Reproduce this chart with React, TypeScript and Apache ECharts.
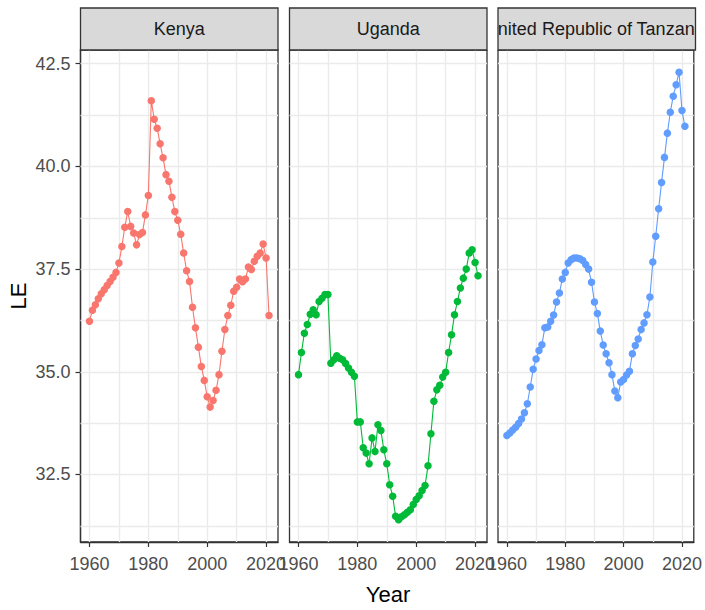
import React, { useEffect, useRef } from "react";
import * as echarts from "echarts";

const startYear = 1960;
const countries = ["Kenya", "Uganda", "United Republic of Tanzania"];
const colors = ["#F8766D", "#00BA38", "#619CFF"];

const kenyaLE = [
  36.23, 36.5, 36.63, 36.78, 36.9, 37.0, 37.1, 37.2, 37.3, 37.42,
  37.65, 38.05, 38.52, 38.9, 38.54, 38.38, 38.09, 38.34, 38.39, 38.82,
  39.29, 41.6, 41.15, 40.93, 40.55, 40.21, 39.8, 39.64, 39.25, 38.9,
  38.69, 38.35, 37.89, 37.46, 37.2, 36.57, 36.07, 35.6, 35.13, 34.79,
  34.39, 34.14, 34.3, 34.55, 34.93, 35.5, 36.03, 36.37, 36.62, 36.96,
  37.06, 37.26, 37.19, 37.26, 37.55, 37.49, 37.69, 37.81, 37.89, 38.11,
  37.77, 36.37,
];
const ugandaLE = [
  34.93, 35.47, 35.94, 36.15, 36.4, 36.51, 36.39, 36.71, 36.79, 36.88,
  36.88, 35.21, 35.29, 35.39, 35.33, 35.29, 35.2, 35.09, 34.99, 34.89,
  33.78, 33.78, 33.15, 33.02, 32.76, 33.39, 33.06, 33.71, 33.57, 33.1,
  32.76, 32.25, 31.97, 31.48, 31.4, 31.47, 31.52, 31.58, 31.64, 31.77,
  31.89, 31.98, 32.11, 32.23, 32.71, 33.49, 34.28, 34.56, 34.67, 34.87,
  34.99, 35.47, 35.9, 36.39, 36.71, 37.04, 37.28, 37.5, 37.89, 37.97,
  37.66, 37.34,
];
const tanzaniaLE = [
  33.45, 33.51, 33.58, 33.65, 33.74, 33.85, 34.0, 34.22, 34.63, 35.06,
  35.31, 35.52, 35.66, 36.07, 36.09, 36.23, 36.38, 36.7, 36.92, 37.26,
  37.42, 37.65, 37.73, 37.77, 37.77, 37.75, 37.71, 37.61, 37.5, 37.18,
  36.7, 36.42, 35.99, 35.65, 35.44, 35.22, 34.93, 34.53, 34.37, 34.75,
  34.81, 34.92, 35.01, 35.44, 35.64, 35.8, 36.03, 36.19, 36.39, 36.82,
  37.67, 38.3, 38.97, 39.61, 40.22, 40.81, 41.32, 41.71, 41.99, 42.29,
  41.36, 40.98,
];
const seriesValues = [kenyaLE, ugandaLE, tanzaniaLE];

const xTicks = [1960, 1980, 2000, 2020];
const xGridLines = [1960, 1970, 1980, 1990, 2000, 2010, 2020];
const yTicks = [32.5, 35, 37.5, 40, 42.5];
const yGridLines = [31.25, 32.5, 33.75, 35, 36.25, 37.5, 38.75, 40, 41.25, 42.5];

const FONT = "'Liberation Sans', Arial, sans-serif";

export default function App() {
  const ref = useRef<HTMLDivElement>(null);

  useEffect(() => {
    if (!ref.current) return;
    const chart = echarts.init(ref.current, undefined, { renderer: "svg" });

    const years = kenyaLE.map((_, i) => startYear + i);
    const xLo = years[0], xHi = years[years.length - 1];
    const xPad = (xHi - xLo) * 0.05;
    const allVals = [...kenyaLE, ...ugandaLE, ...tanzaniaLE];
    const yLo = Math.min(...allVals), yHi = Math.max(...allVals);
    const yPad = (yHi - yLo) * 0.05;
    const xMin = xLo - xPad, xMax = xHi + xPad;
    const yMin = yLo - yPad, yMax = yHi + yPad;

    const lefts = [80.5, 289.5, 498];
    const pw = 197.5;
    const top = 50;
    const ph = 492;
    const stripTop = 8;
    const stripH = top - stripTop;

    const grids = lefts.map((l) => ({
      left: l,
      top,
      width: pw,
      height: ph,
      show: true,
      borderColor: "#333333",
      borderWidth: 1.3,
      backgroundColor: "#FFFFFF",
      containLabel: false,
    }));

    const xAxes = lefts.map((_, i) => ({
      type: "value",
      gridIndex: i,
      min: xMin,
      max: xMax,
      axisLine: { show: true, lineStyle: { color: "#333333", width: 1.3 } },
      axisTick: {
        show: true,
        customValues: xTicks,
        length: 5,
        lineStyle: { color: "#333333", width: 1.2 },
      },
      axisLabel: {
        customValues: xTicks,
        color: "#4D4D4D",
        fontSize: 18,
        fontFamily: FONT,
        margin: 13,
        formatter: (v: number) => String(Math.round(v)),
      },
      splitLine: { show: false },
    }));

    const yAxes = lefts.map((_, i) => ({
      type: "value",
      gridIndex: i,
      min: yMin,
      max: yMax,
      show: i === 0,
      axisLine: { show: true, lineStyle: { color: "#333333", width: 1.3 } },
      axisTick: {
        show: true,
        customValues: yTicks,
        length: 5,
        lineStyle: { color: "#333333", width: 1.2 },
      },
      axisLabel: {
        customValues: yTicks,
        color: "#4D4D4D",
        fontSize: 18,
        fontFamily: FONT,
        margin: 10,
        formatter: (v: number) => v.toFixed(1),
      },
      splitLine: { show: false },
    }));

    const gridSeries = lefts.map((_, i) => ({
      type: "line",
      xAxisIndex: i,
      yAxisIndex: i,
      data: [],
      z: 1,
      silent: true,
      markLine: {
        z: 1,
        silent: true,
        symbol: ["none", "none"],
        label: { show: false },
        lineStyle: { color: "#EBEBEB", width: 1.4, type: "solid" },
        emphasis: { disabled: true },
        animation: false,
        data: [
          ...xGridLines.map((x) => ({ xAxis: x })),
          ...yGridLines.map((y) => ({ yAxis: y })),
        ],
      },
    }));

    const dataSeries = seriesValues.map((vals, i) => ({
      type: "line",
      name: countries[i],
      xAxisIndex: i,
      yAxisIndex: i,
      data: vals.map((v, k) => [years[k], v]),
      symbol: "circle",
      symbolSize: 7.5,
      showSymbol: true,
      lineStyle: { width: 1.1, color: colors[i] },
      itemStyle: { color: colors[i] },
      z: 10,
      clip: false,
    }));

    const strips: any[] = [];
    lefts.forEach((l) => {
      strips.push({
        type: "rect",
        z: 0,
        shape: { x: l, y: stripTop, width: pw, height: stripH },
        style: { fill: "#D9D9D9" },
      });
    });
    lefts.forEach((l, i) => {
      strips.push({
        type: "text",
        z: i === 2 ? 1 : 5,
        x: l + pw / 2,
        y: stripTop + stripH / 2,
        style: {
          text: countries[i],
          fontSize: 18,
          fontFamily: FONT,
          fill: "#1A1A1A",
          align: "center",
          verticalAlign: "middle",
          textAlign: "center",
          textVerticalAlign: "middle",
        },
      });
    });
    strips.push({
      type: "rect",
      z: 2,
      shape: { x: lefts[1] + pw, y: 0, width: lefts[2] - lefts[1] - pw, height: top },
      style: { fill: "#FFFFFF" },
    });
    strips.push({
      type: "rect",
      z: 2,
      shape: { x: lefts[2] + pw, y: 0, width: 705 - lefts[2] - pw, height: top },
      style: { fill: "#FFFFFF" },
    });
    strips.push({
      type: "rect",
      z: 3,
      shape: { x: lefts[1], y: stripTop, width: pw, height: stripH },
      style: { fill: "#D9D9D9" },
    });
    lefts.forEach((l) => {
      strips.push({
        type: "rect",
        z: 6,
        shape: { x: l, y: stripTop, width: pw, height: stripH },
        style: { fill: "none", stroke: "#333333", lineWidth: 1.3 },
      });
    });
    strips.push({
      type: "text",
      z: 6,
      x: (lefts[0] + lefts[2] + pw) / 2,
      y: 594,
      style: {
        text: "Year",
        fontSize: 22,
        fontFamily: FONT,
        fill: "#000000",
        align: "center",
        verticalAlign: "middle",
        textAlign: "center",
        textVerticalAlign: "middle",
      },
    });
    strips.push({
      type: "text",
      z: 6,
      x: 18,
      y: top + ph / 2,
      rotation: Math.PI / 2,
      style: {
        text: "LE",
        fontSize: 22,
        fontFamily: FONT,
        fill: "#000000",
        align: "center",
        verticalAlign: "middle",
        textAlign: "center",
        textVerticalAlign: "middle",
      },
    });

    chart.setOption({
      animation: false,
      backgroundColor: "#FFFFFF",
      grid: grids,
      xAxis: xAxes,
      yAxis: yAxes,
      series: [...gridSeries, ...dataSeries],
      graphic: { elements: strips },
    } as any);

    return () => chart.dispose();
  }, []);

  return (
    <div
      ref={ref}
      style={{ position: "absolute", left: 0, top: 0, width: 705, height: 610 }}
    />
  );
}
